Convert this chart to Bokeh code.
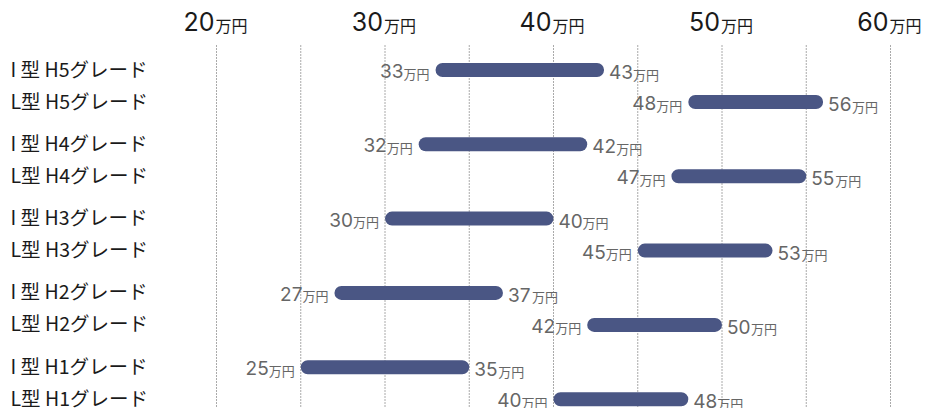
from bokeh.plotting import figure
from bokeh.models import Range1d, ColumnDataSource
from bokeh.core.properties import value
from bokeh.embed import file_html
from bokeh.resources import INLINE

# ---- data ----
categories = ["I 型 H5グレード", "L型 H5グレード",
              "I 型 H4グレード", "L型 H4グレード",
              "I 型 H3グレード", "L型 H3グレード",
              "I 型 H2グレード", "L型 H2グレード",
              "I 型 H1グレード", "L型 H1グレード"]
low = [33, 48, 32, 47, 30, 45, 27, 42, 25, 40]
high = [43, 56, 42, 55, 40, 53, 37, 50, 35, 48]
tick_values = [20, 30, 40, 50, 60]
grid_values = [20, 25, 30, 35, 40, 45, 50, 55, 60]
unit = "万円"

# ---- layout ----
W, H = 926, 408
PX_X = 16.85            # pixels per 万円
X0 = 20 - 216 / PX_X
X1 = X0 + W / PX_X
PAIR_PX = 74.3          # pixels between grade pairs
Y_TOP = -85.5 / PAIR_PX
Y_BOT = Y_TOP + H / PAIR_PX

pair = [i // 2 for i in range(len(categories))]
sign = [-1 if i % 2 == 0 else 1 for i in range(len(categories))]
bar_y = [pr + s * 16 / PAIR_PX for pr, s in zip(pair, sign)]

p = figure(width=W, height=H, x_range=Range1d(X0, X1), y_range=Range1d(Y_BOT, Y_TOP),
           output_backend="svg", toolbar_location=None, min_border=0,
           x_axis_location=None, y_axis_location=None)
p.grid.visible = False
p.outline_line_color = None
p.background_fill_color = "white"

JP = value("Noto Sans CJK JP")
NUM = value("Inter")

# grid lines (dotted)
grid_top = Y_TOP + 45 / PAIR_PX
p.segment(x0=grid_values, x1=grid_values, y0=[grid_top] * len(grid_values),
          y1=[Y_BOT] * len(grid_values), line_color="#555555", line_width=1,
          line_dash="1 2")

# top tick labels
tick_num = [str(v) for v in tick_values]
p.text(x=tick_values, y=[Y_TOP] * len(tick_values), text=tick_num,
       text_font=NUM, text_font_size="25px", text_color="#1a1a1a",
       text_align="right", text_baseline="middle", x_offset=-2, y_offset=21)
p.text(x=tick_values, y=[Y_TOP] * len(tick_values), text=[unit] * len(tick_values),
       text_font=JP, text_font_size="16px", text_color="#1a1a1a",
       text_align="left", text_baseline="middle", x_offset=-1, y_offset=24)

# bars
src = ColumnDataSource(dict(y=bar_y, left=low, right=high))
p.hbar(y="y", left="left", right="right", height=14 / PAIR_PX, source=src,
       fill_color="#4a5684", line_color=None, border_radius=7)

# value labels
VAL_COL = "#666666"
UNIT_W = 26
DIG_W = 24
p.text(x=low, y=bar_y, text=[str(v) for v in low], text_font=NUM, text_font_size="19px",
       text_color=VAL_COL, text_align="right", text_baseline="middle",
       x_offset=-(6 + UNIT_W), y_offset=1)
p.text(x=low, y=bar_y, text=[unit] * len(low), text_font=JP, text_font_size="13px",
       text_color=VAL_COL, text_align="right", text_baseline="middle",
       x_offset=-6, y_offset=3)
p.text(x=high, y=bar_y, text=[str(v) for v in high], text_font=NUM, text_font_size="19px",
       text_color=VAL_COL, text_align="left", text_baseline="middle",
       x_offset=5, y_offset=2)
p.text(x=high, y=bar_y, text=[unit] * len(high), text_font=JP, text_font_size="13px",
       text_color=VAL_COL, text_align="left", text_baseline="middle",
       x_offset=5 + DIG_W, y_offset=4)

# category labels
p.text(x=[X0] * len(categories), y=bar_y, text=categories, text_font=JP,
       text_font_size="19.5px", text_color="#1a1a1a", text_align="left",
       text_baseline="middle", x_offset=10, y_offset=-2)

open("out.html", "w").write(file_html(p, INLINE))
